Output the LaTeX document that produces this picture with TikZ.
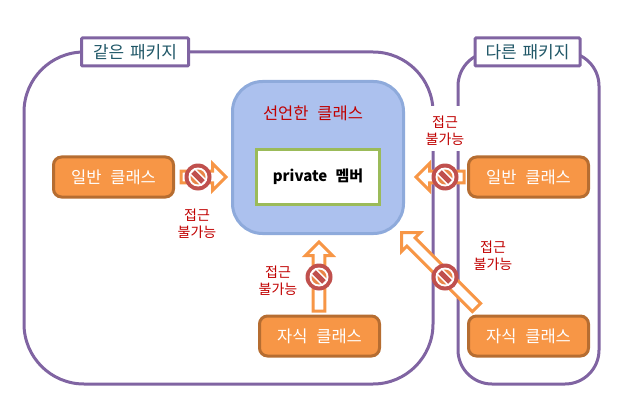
\documentclass[tikz,border=0pt]{standalone}
\usepackage{fontspec}
\setmainfont[WordSpace=2.4]{Noto Sans CJK KR}
\usetikzlibrary{shapes.arrows}
\definecolor{pkgline}{HTML}{8064A2}
\definecolor{pkgtext}{HTML}{215868}
\definecolor{orgfill}{HTML}{F79646}
\definecolor{orgline}{HTML}{B66D31}
\definecolor{clsfill}{HTML}{ACC1EE}
\definecolor{clsline}{HTML}{8EAADB}
\definecolor{grn}{HTML}{9BBB59}
\definecolor{nored}{HTML}{C0504D}
\definecolor{lblred}{HTML}{C00000}
\newcommand{\lowered}[1]{\raisebox{-1.5pt}{#1}}
\tikzset{
  x=1pt,y=-1pt,
  every node/.style={outer sep=0pt},
  pkg/.style={draw=pkgline,line width=3pt,rounded corners=#1},
  pkgtag/.style={draw=pkgline,fill=white,line width=3pt,rounded corners=1pt,text=pkgtext,font=\fontsize{17}{19}\selectfont,minimum height=28pt,inner sep=0pt,text width=#1,align=center},
  orgbox/.style={draw=orgline,fill=orgfill,line width=3pt,rounded corners=8pt,text=white,font=\fontsize{16.5}{18}\selectfont,minimum width=120pt,minimum height=40pt,inner sep=0pt},
  blockarrow/.style={single arrow,draw=orgfill,fill=white,line width=3pt,inner xsep=0pt,inner ysep=4.4pt,minimum width=24pt,single arrow head extend=7.6pt,single arrow tip angle=90,anchor=tip,minimum height=#1},
  lbl/.style={text=lblred,font=\fontsize{14}{17}\selectfont,align=center,inner sep=0pt},
  nosign/.pic={
    \fill[nored] (0,0) circle (13.5);
    \fill[white] (0,0) circle (9.5);
    \fill[orgfill!75!nored] (0,0) circle (7.5);
    \begin{scope}[rotate=-45]
      \fill[white] (-8.5,-4.2) rectangle (8.5,4.2);
      \fill[nored] (-7,-2.6) rectangle (7,2.6);
    \end{scope}
  }
}
\begin{document}
\begin{tikzpicture}
\useasboundingbox (0,0) rectangle (628,406);
% package frames
\node[pkg=60pt,minimum width=409pt,minimum height=332pt,anchor=north west,inner sep=0pt] (same) at (24,52) {};
\node[pkg=34pt,minimum width=141pt,minimum height=332pt,anchor=north west,inner sep=0pt] (other) at (458,52) {};
\node[pkgtag=107pt,anchor=center] (sametag) at (135,52) {\lowered{같은 패키지}};
\node[pkgtag=105pt,anchor=center] (othertag) at (527.5,52) {\lowered{다른 패키지}};
% declaring class
\node[draw=clsline,fill=clsfill,line width=3pt,rounded corners=30pt,minimum width=171pt,minimum height=152pt,anchor=north west,inner sep=0pt] (cls) at (232.5,81.5) {};
\node[text=lblred,font=\fontsize{16.5}{18}\selectfont,inner sep=0pt] (clstitle) at (313,113) {선언한 클래스};
\node[draw=grn,fill=white,line width=3pt,minimum width=123pt,minimum height=55pt,inner sep=0pt,font=\bfseries\fontsize{15}{18}\selectfont] (priv) at (318,177) {\lowered{private 멤버}};
% classes
\node[orgbox] (gen1) at (113.5,177) {\lowered{일반 클래스}};
\node[orgbox] (gen2) at (528.5,177) {\lowered{일반 클래스}};
\node[orgbox] (sub1) at (319.5,336) {\lowered{자식 클래스}};
\node[orgbox] (sub2) at (528.5,336) {\lowered{자식 클래스}};
% blocked arrows
\node[blockarrow=45pt] (a1) at (226,177) {};
\node[blockarrow=48pt,rotate=180] (a2) at (416,177) {};
\node[blockarrow=69pt,rotate=90] (a3) at (319,242) {};
\node[blockarrow=106pt,rotate=135] (a4) at (401.5,232.5) {};
% labels
\fill[white] (425,106) rectangle (466,151);
\node[lbl] (l1) at (197,224) {접근\\불가능};
\node[lbl] (l2) at (445,131) {접근\\불가능};
\node[lbl] (l3) at (278,280.5) {접근\\불가능};
\node[lbl] (l4) at (493,256) {접근\\불가능};
% no-entry signs
\pic at (198,177) {nosign};
\pic at (445,177) {nosign};
\pic at (319,277) {nosign};
\pic at (445,277) {nosign};
\end{tikzpicture}
\end{document}
